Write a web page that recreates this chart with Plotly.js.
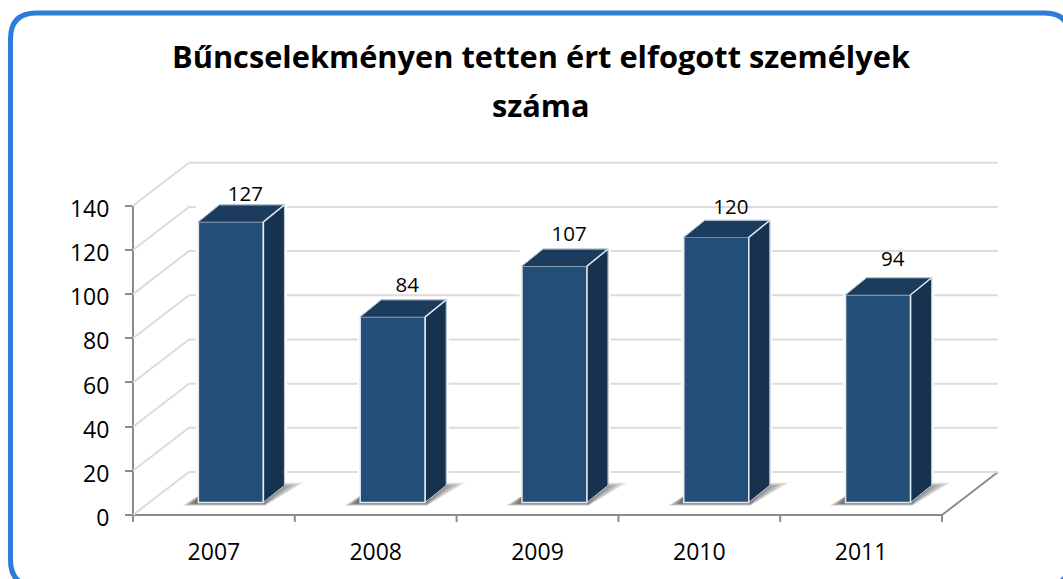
<!DOCTYPE html>
<html><head><meta charset="utf-8">
<script src="https://cdn.plot.ly/plotly-3.0.1.min.js"></script>
<style>html,body{margin:0;padding:0;background:#fff;overflow:hidden}#c{width:1063px;height:579px}</style>
</head><body><div id="c"></div>
<script>
var years = ['2007','2008','2009','2010','2011'];
var values = [127,84,107,120,94];
var yTicks = [0,20,40,60,80,100,120,140];
var titleLine1 = 'Bűncselekményen tetten ért elfogott személyek';
var titleLine2 = 'száma';
var labelLift = [11.6,13.5,13.5,13,15.3];
var FONT = 'Open Sans';

var W=1063,H=579, ml=133, mr=60, mt=155, mb=64;
var pw=W-ml-mr, ph=H-mt-mb;
var unitX=161.8, unitY=2.209;
var xMax=pw/unitX, yMax=ph/unitY;
var depthX=56/unitX, depthY=43/unitY;
var pos=years.map(function(_,i){return i+0.5+0.105;});
var barW=0.402, base=5.7, sideX=21/unitX, sideY=17/unitY;

function px(x){return (x-ml)/pw;}
function py(y){return (H-mb-y)/ph;}
function poly(pts){return pts.map(function(p,i){return (i?'L':'M')+p[0]+','+p[1];}).join(' ')+' Z';}

var shapes=[];
// frame
var bx0=10.5,by0=13,bx1=1070,by1=586,r=26;
shapes.push({type:'path',xref:'paper',yref:'paper',layer:'below',line:{color:'#2b7dd8',width:5},fillcolor:'rgba(0,0,0,0)',
 path:'M'+px(bx0+r)+','+py(by0)+' L'+px(bx1-r)+','+py(by0)+' Q'+px(bx1)+','+py(by0)+' '+px(bx1)+','+py(by0+r)+
 ' L'+px(bx1)+','+py(by1-r)+' Q'+px(bx1)+','+py(by1)+' '+px(bx1-r)+','+py(by1)+
 ' L'+px(bx0+r)+','+py(by1)+' Q'+px(bx0)+','+py(by1)+' '+px(bx0)+','+py(by1-r)+
 ' L'+px(bx0)+','+py(by0+r)+' Q'+px(bx0)+','+py(by0)+' '+px(bx0+r)+','+py(by0)+' Z'});
// gridlines: side wall + back wall, ending where the floor ends
var backEnd=5+depthX;
yTicks.forEach(function(v){
  shapes.push({type:'path',xref:'x',yref:'y',layer:'below',line:{color:'#dcdcdc',width:2},
   path:'M0,'+v+' L'+depthX+','+(v+depthY)+' L'+backEnd+','+(v+depthY)});
});
// halo: gridlines stop just short of each bar
pos.forEach(function(c,i){
 shapes.push({type:'rect',xref:'x',yref:'y',layer:'below',line:{width:0},fillcolor:'#fff',
   x0:c-barW/2-2.5/unitX,x1:c+barW/2+sideX+2.5/unitX,y0:base,y1:base+values[i]+sideY});
});
// floor and axis lines
var fx=function(x){return x/xMax;}, fy=function(y){return y/yMax;};
shapes.push({type:'path',xref:'paper',yref:'paper',layer:'below',line:{color:'#8c8c8c',width:2},
  path:'M0,'+fy(140)+' L0,0 L'+fx(5)+',0 L'+fx(backEnd)+','+fy(depthY)});
for(var i=0;i<=5;i++){shapes.push({type:'line',xref:'paper',yref:'paper',layer:'below',x0:fx(i),x1:fx(i),y0:0,y1:-7/ph,line:{color:'#8c8c8c',width:2}});}
// soft shadows, built up from thin layers
var steps=[1,0.93,0.86,0.79,0.72,0.65,0.58,0.51,0.44,0.37,0.3,0.23];
pos.forEach(function(c){
 var L=c-barW/2,R=c+barW/2;
 steps.forEach(function(g){
  var yB=base-1.5*g, yT=base+5+4*g;
  shapes.push({type:'path',xref:'x',yref:'y',layer:'below',line:{width:0},fillcolor:'rgba(50,50,50,0.09)',
   path:poly([[L-0.10*g,yB],[R+0.01,yB],[R+0.25*g,yT],[L+0.13*g,yT]])});
 });
});

var edge='#e4ebf2';
var data=[{type:'bar',x:pos,y:values,base:base,width:barW,
  marker:{color:'#234e78',line:{color:edge,width:1.5}},hoverinfo:'skip',showlegend:false}];
pos.forEach(function(c,i){
 var L=c-barW/2,R=c+barW/2,t=base+values[i];
 data.push({type:'scatter',mode:'lines',x:[R,R+sideX,R+sideX,R,R],y:[base,base+sideY,t+sideY,t,base],
   fill:'toself',fillcolor:'#17324f',line:{color:'#17324f',width:0.5},hoverinfo:'skip',showlegend:false});
 data.push({type:'scatter',mode:'lines',x:[L,L+sideX,R+sideX,R,L],y:[t,t+sideY,t+sideY,t,t],
   fill:'toself',fillcolor:'#1b3c5d',line:{color:'#1b3c5d',width:0.5},hoverinfo:'skip',showlegend:false});
 data.push({type:'scatter',mode:'lines',x:[L,L+sideX,R+sideX,R+sideX,R],y:[t,t+sideY,t+sideY,base+sideY,base],
   line:{color:'#c6d3df',width:1},hoverinfo:'skip',showlegend:false});
 data.push({type:'scatter',mode:'lines',x:[R,R,R+sideX],y:[base,t,t+sideY],line:{color:edge,width:1.5},hoverinfo:'skip',showlegend:false});
});
data.push({type:'scatter',mode:'text',x:pos.map(function(c){return c+0.09;}),y:values.map(function(v,i){return v+base+labelLift[i];}),
  text:values.map(String),textfont:{family:FONT,size:20.5,color:'#000'},textposition:'middle center',hoverinfo:'skip',showlegend:false});

var layout={width:W,height:H,margin:{l:ml,r:mr,t:mt,b:mb},paper_bgcolor:'#fff',plot_bgcolor:'rgba(0,0,0,0)',showlegend:false,
 font:{family:FONT,color:'#000'},
 title:{text:titleLine1,font:{family:FONT,size:30.75,color:'#000',weight:700},x:541/1063,xanchor:'center',y:1-57/579,yanchor:'middle'},
 annotations:[{text:titleLine2,xref:'paper',yref:'paper',x:px(541),y:py(105),xanchor:'center',yanchor:'middle',showarrow:false,
   font:{family:FONT,size:30.75,color:'#000',weight:700}}],
 xaxis:{range:[0,xMax],tickvals:years.map(function(_,i){return i+0.5;}),ticktext:years,ticks:'',showgrid:false,zeroline:false,showline:false,
  ticklabelstandoff:21,tickfont:{family:FONT,size:23,color:'#000'},fixedrange:true},
 yaxis:{range:[0,yMax],tickvals:yTicks,ticks:'outside',ticklen:7,tickwidth:2,tickcolor:'#8c8c8c',showgrid:false,zeroline:false,showline:false,
  ticklabelstandoff:11,ticklabelshift:3,tickfont:{family:FONT,size:23,color:'#000'},fixedrange:true},
 shapes:shapes,bargap:0};
Plotly.newPlot('c',data,layout,{displayModeBar:false,staticPlot:true});
</script></body></html>
